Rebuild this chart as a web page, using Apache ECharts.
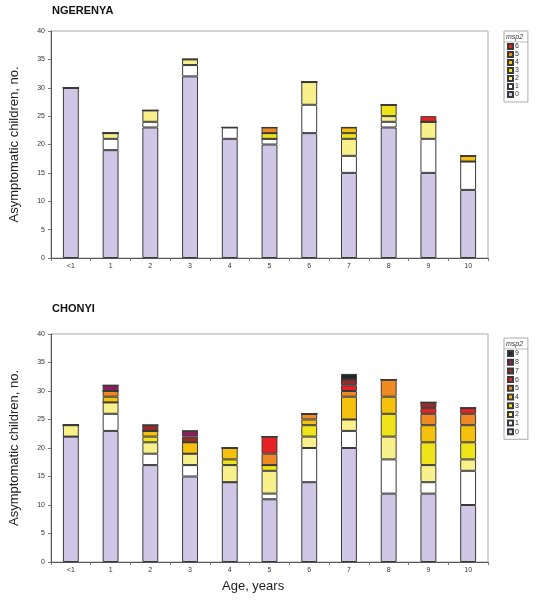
<!DOCTYPE html>
<html>
<head>
<meta charset="utf-8">
<script src="https://cdn.jsdelivr.net/npm/echarts@6/dist/echarts.min.js"></script>
<style>
html,body{margin:0;padding:0;background:#fff;}
#chart{width:536px;height:600px;}
</style>
</head>
<body>
<div id="chart"></div>
<script>
// Categories (age, years)
var categories = ['<1','1','2','3','4','5','6','7','8','9','10'];
var yTicks = [0,5,10,15,20,25,30,35,40];

// NGERENYA: number of children by msp2 level
var ng0 = [30,19,23,32,21,20,22,15,23,15,12];
var ng1 = [0,2,1,2,2,1,5,3,1,6,5];
var ng2 = [0,1,2,1,0,0,4,3,1,3,0];
var ng3 = [0,0,0,0,0,1,0,1,2,0,0];
var ng4 = [0,0,0,0,0,0,0,1,0,0,1];
var ng5 = [0,0,0,0,0,1,0,0,0,0,0];
var ng6 = [0,0,0,0,0,0,0,0,0,1,0];

// CHONYI: number of children by msp2 level
var ch0 = [22,23,17,15,14,11,14,20,12,12,10];
var ch1 = [0,3,2,2,0,1,6,3,6,2,6];
var ch2 = [2,2,2,2,3,4,2,2,4,3,2];
var ch3 = [0,0,1,0,1,1,2,0,4,4,3];
var ch4 = [0,1,1,2,2,0,1,4,3,3,3];
var ch5 = [0,1,0,0,0,2,1,1,3,2,2];
var ch6 = [0,0,0,0,0,3,0,1,0,1,1];
var ch7 = [0,0,1,1,0,0,0,1,0,1,0];
var ch8 = [0,1,0,1,0,0,0,0,0,0,0];
var ch9 = [0,0,0,0,0,0,0,1,0,0,0];

var levelNames = ['0','1','2','3','4','5','6','7','8','9'];
var levelColors = ['#cfc7e5','#ffffff','#f8f08a','#efe41a','#f6c10c','#ef8a22','#e62225','#962b27','#8a1f5b','#262626'];

var ngData = [ng0,ng1,ng2,ng3,ng4,ng5,ng6];
var chData = [ch0,ch1,ch2,ch3,ch4,ch5,ch6,ch7,ch8,ch9];

var FONT = 'Liberation Sans, Arial, sans-serif';

function mkSeries(arrs, idx, stack) {
  return arrs.map(function (d, i) {
    return {
      name: levelNames[i],
      type: 'bar',
      stack: stack,
      xAxisIndex: idx,
      yAxisIndex: idx,
      barWidth: '40%',
      data: d,
      itemStyle: {color: levelColors[i], borderColor: '#3a3a3a', borderWidth: 1},
      emphasis: {disabled: true},
      animation: false
    };
  });
}

function mkX(gridIdx) {
  return {
    type: 'category', gridIndex: gridIdx, data: categories,
    axisLine: {lineStyle: {color: '#555', width: 1}},
    axisTick: {show: true, length: 3, lineStyle: {color: '#777'}},
    axisLabel: {fontSize: 7, color: '#333', margin: 5, fontFamily: FONT}
  };
}
function mkY(gridIdx) {
  return {
    type: 'value', gridIndex: gridIdx, min: 0, max: 40, interval: 5,
    name: 'Asymptomatic children, no.', nameLocation: 'middle', nameGap: 30,
    nameTextStyle: {fontSize: 13, color: '#222', fontFamily: FONT},
    axisLine: {show: true, lineStyle: {color: '#555', width: 1}},
    axisTick: {show: true, length: 3, lineStyle: {color: '#777'}},
    axisLabel: {fontSize: 7, color: '#333', margin: 6, fontFamily: FONT},
    splitLine: {show: false}
  };
}

var legendBase = {
  orient: 'vertical', left: 504, itemWidth: 5, itemHeight: 5, itemGap: 1,
  icon: 'rect',
  borderColor: '#aaa', borderWidth: 1, padding: [12, 9, 4, 3],
  selectedMode: false,
  textStyle: {fontSize: 7, lineHeight: 7, color: '#333', fontFamily: FONT, padding: [0,0,0,-3]}
};

var chart = echarts.init(document.getElementById('chart'), null, {renderer: 'canvas'});
chart.setOption({
  backgroundColor: '#fff',
  animation: false,
  title: [
    {text: 'NGERENYA', left: 52, top: 5, padding: 0, textStyle: {fontSize: 11, fontWeight: 'bold', color: '#111', fontFamily: FONT}},
    {text: 'CHONYI', left: 52, top: 303, padding: 0, textStyle: {fontSize: 11, fontWeight: 'bold', color: '#111', fontFamily: FONT}}
  ],
  grid: [
    {left: 51, top: 31, width: 437, height: 227, show: true, borderColor: '#aaa', borderWidth: 1},
    {left: 51, top: 334, width: 437, height: 228, show: true, borderColor: '#aaa', borderWidth: 1}
  ],
  xAxis: [mkX(0), mkX(1)],
  yAxis: [mkY(0), mkY(1)],
  legend: [
    Object.assign({}, legendBase, {top: 31, data: levelNames.slice(0, 7).reverse()}),
    Object.assign({}, legendBase, {top: 338, itemGap: 1.7, data: levelNames.slice(0, 10).reverse()})
  ],
  graphic: [
    {type: 'text', left: 506, top: 34, style: {text: 'msp2', fontSize: 7, fontStyle: 'italic', fill: '#333', fontFamily: FONT}},
    {type: 'line', shape: {x1: 504, y1: 42, x2: 528, y2: 42}, style: {stroke: '#bbb', lineWidth: 1}},
    {type: 'text', left: 506, top: 341, style: {text: 'msp2', fontSize: 7, fontStyle: 'italic', fill: '#333', fontFamily: FONT}},
    {type: 'line', shape: {x1: 504, y1: 349, x2: 528, y2: 349}, style: {stroke: '#bbb', lineWidth: 1}},
    {type: 'text', left: 222, top: 580, style: {text: 'Age, years', fontSize: 13, fill: '#222', fontFamily: FONT}}
  ],
  series: mkSeries(ngData, 0, 'ng').concat(mkSeries(chData, 1, 'ch'))
});
</script>
</body>
</html>
